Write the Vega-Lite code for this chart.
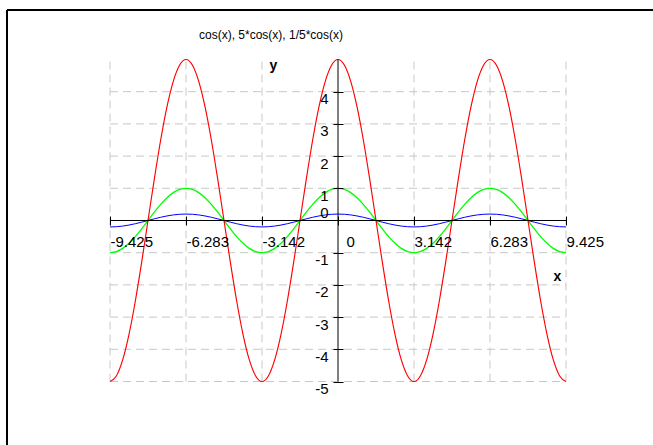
{
"$schema": "https://vega.github.io/schema/vega-lite/v6.json",
"width": 646,
"height": 435,
"autosize": {"type": "none"},
"padding": {"left": 7, "top": 10, "right": 0, "bottom": 0},
"background": "white",
"view": {"stroke": "transparent", "fill": null},
"title": {"text": "cos(x), 5*cos(x), 1/5*cos(x)", "anchor": "middle", "frame": "group", "offset": -38, "dx": -59, "baseline": "middle", "fontSize": 12, "fontWeight": "normal", "font": "Liberation Sans", "color": "black"},
"datasets": {
"curves": [
{"x":-9.4248,"a":-1,"b":-5,"c":-0.2},
{"x":-9.163,"a":-0.9659,"b":-4.8296,"c":-0.1932},
{"x":-8.9012,"a":-0.866,"b":-4.3301,"c":-0.1732},
{"x":-8.6394,"a":-0.7071,"b":-3.5355,"c":-0.1414},
{"x":-8.3776,"a":-0.5,"b":-2.5,"c":-0.1},
{"x":-8.1158,"a":-0.2588,"b":-1.2941,"c":-0.0518},
{"x":-7.854,"a":0,"b":0,"c":0},
{"x":-7.5922,"a":0.2588,"b":1.2941,"c":0.0518},
{"x":-7.3304,"a":0.5,"b":2.5,"c":0.1},
{"x":-7.0686,"a":0.7071,"b":3.5355,"c":0.1414},
{"x":-6.8068,"a":0.866,"b":4.3301,"c":0.1732},
{"x":-6.545,"a":0.9659,"b":4.8296,"c":0.1932},
{"x":-6.2832,"a":1,"b":5,"c":0.2},
{"x":-6.0214,"a":0.9659,"b":4.8296,"c":0.1932},
{"x":-5.7596,"a":0.866,"b":4.3301,"c":0.1732},
{"x":-5.4978,"a":0.7071,"b":3.5355,"c":0.1414},
{"x":-5.236,"a":0.5,"b":2.5,"c":0.1},
{"x":-4.9742,"a":0.2588,"b":1.2941,"c":0.0518},
{"x":-4.7124,"a":0,"b":0,"c":0},
{"x":-4.4506,"a":-0.2588,"b":-1.2941,"c":-0.0518},
{"x":-4.1888,"a":-0.5,"b":-2.5,"c":-0.1},
{"x":-3.927,"a":-0.7071,"b":-3.5355,"c":-0.1414},
{"x":-3.6652,"a":-0.866,"b":-4.3301,"c":-0.1732},
{"x":-3.4034,"a":-0.9659,"b":-4.8296,"c":-0.1932},
{"x":-3.1416,"a":-1,"b":-5,"c":-0.2},
{"x":-2.8798,"a":-0.9659,"b":-4.8296,"c":-0.1932},
{"x":-2.618,"a":-0.866,"b":-4.3301,"c":-0.1732},
{"x":-2.3562,"a":-0.7071,"b":-3.5355,"c":-0.1414},
{"x":-2.0944,"a":-0.5,"b":-2.5,"c":-0.1},
{"x":-1.8326,"a":-0.2588,"b":-1.2941,"c":-0.0518},
{"x":-1.5708,"a":0,"b":0,"c":0},
{"x":-1.309,"a":0.2588,"b":1.2941,"c":0.0518},
{"x":-1.0472,"a":0.5,"b":2.5,"c":0.1},
{"x":-0.7854,"a":0.7071,"b":3.5355,"c":0.1414},
{"x":-0.5236,"a":0.866,"b":4.3301,"c":0.1732},
{"x":-0.2618,"a":0.9659,"b":4.8296,"c":0.1932},
{"x":0,"a":1,"b":5,"c":0.2},
{"x":0.2618,"a":0.9659,"b":4.8296,"c":0.1932},
{"x":0.5236,"a":0.866,"b":4.3301,"c":0.1732},
{"x":0.7854,"a":0.7071,"b":3.5355,"c":0.1414},
{"x":1.0472,"a":0.5,"b":2.5,"c":0.1},
{"x":1.309,"a":0.2588,"b":1.2941,"c":0.0518},
{"x":1.5708,"a":0,"b":0,"c":0},
{"x":1.8326,"a":-0.2588,"b":-1.2941,"c":-0.0518},
{"x":2.0944,"a":-0.5,"b":-2.5,"c":-0.1},
{"x":2.3562,"a":-0.7071,"b":-3.5355,"c":-0.1414},
{"x":2.618,"a":-0.866,"b":-4.3301,"c":-0.1732},
{"x":2.8798,"a":-0.9659,"b":-4.8296,"c":-0.1932},
{"x":3.1416,"a":-1,"b":-5,"c":-0.2},
{"x":3.4034,"a":-0.9659,"b":-4.8296,"c":-0.1932},
{"x":3.6652,"a":-0.866,"b":-4.3301,"c":-0.1732},
{"x":3.927,"a":-0.7071,"b":-3.5355,"c":-0.1414},
{"x":4.1888,"a":-0.5,"b":-2.5,"c":-0.1},
{"x":4.4506,"a":-0.2588,"b":-1.2941,"c":-0.0518},
{"x":4.7124,"a":0,"b":0,"c":0},
{"x":4.9742,"a":0.2588,"b":1.2941,"c":0.0518},
{"x":5.236,"a":0.5,"b":2.5,"c":0.1},
{"x":5.4978,"a":0.7071,"b":3.5355,"c":0.1414},
{"x":5.7596,"a":0.866,"b":4.3301,"c":0.1732},
{"x":6.0214,"a":0.9659,"b":4.8296,"c":0.1932},
{"x":6.2832,"a":1,"b":5,"c":0.2},
{"x":6.545,"a":0.9659,"b":4.8296,"c":0.1932},
{"x":6.8068,"a":0.866,"b":4.3301,"c":0.1732},
{"x":7.0686,"a":0.7071,"b":3.5355,"c":0.1414},
{"x":7.3304,"a":0.5,"b":2.5,"c":0.1},
{"x":7.5922,"a":0.2588,"b":1.2941,"c":0.0518},
{"x":7.854,"a":0,"b":0,"c":0},
{"x":8.1158,"a":-0.2588,"b":-1.2941,"c":-0.0518},
{"x":8.3776,"a":-0.5,"b":-2.5,"c":-0.1},
{"x":8.6394,"a":-0.7071,"b":-3.5355,"c":-0.1414},
{"x":8.9012,"a":-0.866,"b":-4.3301,"c":-0.1732},
{"x":9.163,"a":-0.9659,"b":-4.8296,"c":-0.1932},
{"x":9.4248,"a":-1,"b":-5,"c":-0.2}
],
"xgrid": [{"v":-9.425},{"v":-6.283},{"v":-3.142},{"v":3.142},{"v":6.283},{"v":9.425}],
"ygrid": [{"v":-5},{"v":-4},{"v":-3},{"v":-2},{"v":-1},{"v":1},{"v":2},{"v":3},{"v":4}],
"one": [{}]
},
"layer": [
{
"data": {"name": "xgrid"},
"mark": {"type": "rule", "color": "#c8c8c8", "strokeDash": [8, 5], "strokeWidth": 1},
"encoding": {
"x": {"field": "v", "type": "quantitative", "scale": {"domain": [-13.6828, 13.0213], "nice": false, "zero": false}, "axis": null},
"y": {"datum": -5, "type": "quantitative", "scale": {"domain": [-6.972, 6.537], "nice": false, "zero": false}, "axis": null},
"y2": {"datum": 5}
}
},
{
"data": {"name": "ygrid"},
"mark": {"type": "rule", "color": "#c8c8c8", "strokeDash": [8, 5], "strokeWidth": 1},
"encoding": {
"x": {"datum": -9.425, "type": "quantitative", "scale": {"domain": [-13.6828, 13.0213], "nice": false, "zero": false}, "axis": null},
"x2": {"datum": 9.425},
"y": {"field": "v", "type": "quantitative", "scale": {"domain": [-6.972, 6.537], "nice": false, "zero": false}, "axis": null}
}
},
{
"data": {"name": "curves"},
"transform": [{"fold": ["a", "b", "c"], "as": ["f", "y"]}],
"mark": {"type": "line", "interpolate": "monotone"},
"encoding": {
"x": {"field": "x", "type": "quantitative", "scale": {"domain": [-13.6828, 13.0213], "nice": false, "zero": false}, "axis": null},
"y": {"field": "y", "type": "quantitative", "scale": {"domain": [-6.972, 6.537], "nice": false, "zero": false}, "axis": null},
"color": {"field": "f", "type": "nominal", "scale": {"domain": ["a", "b", "c"], "range": ["#00ff00", "#ff0000", "#0000ff"]}, "legend": null},
"strokeWidth": {"field": "f", "type": "nominal", "scale": {"domain": ["a", "b", "c"], "range": [1.3, 1, 1.6]}, "legend": null}
}
},
{
"data": {"name": "one"},
"mark": {"type": "rule", "color": "black", "strokeWidth": 1},
"encoding": {
"x": {"datum": -9.425, "type": "quantitative", "scale": {"domain": [-13.6828, 13.0213], "nice": false, "zero": false},
"axis": {"orient": "bottom", "offset": -229, "values": [-9.425, -6.283, -3.142, 0, 3.142, 6.283, 9.425], "domain": false, "grid": false, "ticks": true, "tickSize": 9, "tickColor": "black", "tickWidth": 1, "labelAlign": "left", "labelBaseline": "top", "labelPadding": 9, "labelOffset": {"condition": {"test": "datum.value == 0", "value": 8}, "value": 0}, "labelFontSize": 15, "labelFont": "Liberation Sans", "labelColor": "black", "labelOverlap": false, "labelBound": false, "labelFlush": false, "labelExpr": "toString(datum.value)", "title": "x", "titleX": 550, "titleY": 60, "titleAlign": "center", "titleBaseline": "middle", "titleAngle": 0, "titleFontSize": 14, "titleFontWeight": "bold", "titleFont": "Liberation Sans", "titleColor": "black", "zindex": 1}},
"x2": {"datum": 9.425},
"y": {"datum": 0, "type": "quantitative", "scale": {"domain": [-6.972, 6.537], "nice": false, "zero": false}, "axis": null}
}
},
{
"data": {"name": "one"},
"mark": {"type": "rule", "color": "black", "strokeWidth": 1},
"encoding": {
"x": {"datum": 0, "type": "quantitative", "scale": {"domain": [-13.6828, 13.0213], "nice": false, "zero": false}, "axis": null},
"y": {"datum": -5, "type": "quantitative", "scale": {"domain": [-6.972, 6.537], "nice": false, "zero": false},
"axis": {"orient": "left", "offset": -336, "values": [-5, -4, -3, -2, -1, 0, 1, 2, 3, 4], "domain": false, "grid": false, "ticks": true, "tickSize": 10, "tickColor": "black", "tickWidth": 1, "labelAlign": "right", "labelBaseline": {"condition": {"test": "datum.value == 0", "value": "bottom"}, "value": "top"}, "labelPadding": 5, "labelFontSize": 15, "labelFont": "Liberation Sans", "labelColor": "black", "labelOverlap": false, "labelBound": false, "labelFlush": false, "labelExpr": "toString(datum.value)", "title": "y", "titleX": -70, "titleY": 55, "titleAlign": "center", "titleBaseline": "middle", "titleAngle": 0, "titleFontSize": 14, "titleFontWeight": "bold", "titleFont": "Liberation Sans", "titleColor": "black", "zindex": 1}},
"y2": {"datum": 5}
}
},
{
"data": {"name": "one"},
"mark": {"type": "rule", "color": "black", "strokeWidth": 2},
"encoding": {
"y": {"datum": 6.537, "type": "quantitative", "scale": {"domain": [-6.972, 6.537], "nice": false, "zero": false}, "axis": null}
}
},
{
"data": {"name": "one"},
"mark": {"type": "rule", "color": "black", "strokeWidth": 2},
"encoding": {
"x": {"datum": -13.6828, "type": "quantitative", "scale": {"domain": [-13.6828, 13.0213], "nice": false, "zero": false}, "axis": null}
}
}
],
"resolve": {"axis": {"x": "independent", "y": "independent"}},
"config": {"view": {"stroke": null}, "font": "Liberation Sans", "axis": {"grid": false}}
}
